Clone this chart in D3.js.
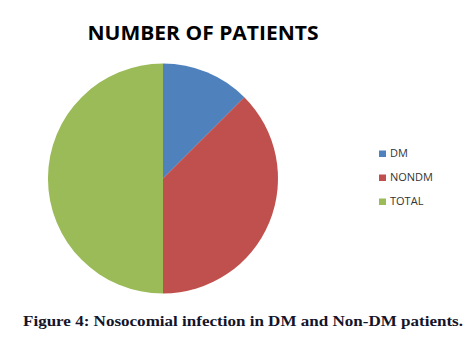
<!DOCTYPE html>
<meta charset="utf-8">
<style>
  body { margin: 0; background: #fff; }
  svg { display: block; }
</style>
<body></body>
<script src="https://d3js.org/d3.v7.min.js"></script>
<script>

var categories = ["DM", "NONDM", "TOTAL"];
var patients = [12, 36, 48];
var colors = ["#4f81bd", "#c0504d", "#9bbb59"];

var width = 472, height = 340;

var svg = d3.select("body").append("svg")
    .attr("width", width)
    .attr("height", height);

// title
svg.append("text")
    .attr("x", 203)
    .attr("y", 40)
    .attr("text-anchor", "middle")
    .style("font-family", "'Open Sans', sans-serif")
    .style("font-weight", "bold")
    .style("font-size", "20px")
    .attr("textLength", 231)
    .attr("lengthAdjust", "spacingAndGlyphs")
    .text("NUMBER OF PATIENTS");

var data = categories.map(function (c, i) { return {name: c, value: patients[i]}; });

var pie = d3.pie()
    .sort(null)
    .value(function (d) { return d.value; });

var arc = d3.arc()
    .innerRadius(0)
    .outerRadius(115);

var color = d3.scaleOrdinal()
    .domain(categories)
    .range(colors);

var g = svg.append("g")
    .attr("transform", "translate(163,178.5)");

g.selectAll("path")
    .data(pie(data))
    .enter().append("path")
    .attr("d", arc)
    .attr("fill", function (d) { return color(d.data.name); });

// legend
var legendY = d3.scalePoint()
    .domain(categories)
    .range([157, 205]);

var legend = svg.selectAll(".legend")
    .data(categories)
    .enter().append("g")
    .attr("class", "legend")
    .attr("transform", function (d) { return "translate(379," + legendY(d) + ")"; });

legend.append("rect")
    .attr("x", 0)
    .attr("y", -6.5)
    .attr("width", 7)
    .attr("height", 6.5)
    .attr("fill", function (d) { return color(d); });

legend.append("text")
    .attr("x", 11)
    .attr("y", 0)
    .style("font-family", "'Open Sans', sans-serif")
    .style("font-size", "11px")
    .style("fill", "#333")
    .text(function (d) { return d; });

// caption
svg.append("text")
    .attr("x", 23)
    .attr("y", 326)
    .style("font-family", "'Liberation Serif', serif")
    .style("font-weight", "bold")
    .style("font-size", "15.5px")
    .style("fill", "#14142a")
    .attr("textLength", 440)
    .attr("lengthAdjust", "spacingAndGlyphs")
    .text("Figure 4: Nosocomial infection in DM and Non-DM patients.");

</script>
